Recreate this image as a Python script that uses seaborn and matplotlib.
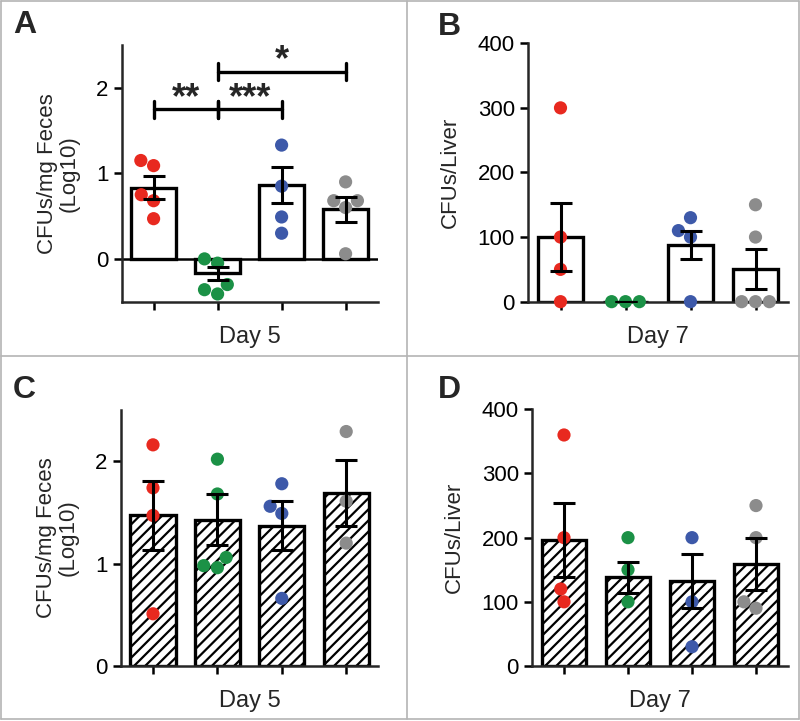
import pandas as pd
import matplotlib.pyplot as plt
import seaborn as sns
from matplotlib.lines import Line2D

# groups (same order in every panel) and dot colours
groups = ['g1', 'g2', 'g3', 'g4']
colors = ['#e8291f', '#1b9146', '#3d59a9', '#8c8c8c']

# Panel A - feces, day 5 (log10)
a_red = [1.15, 1.09, 0.75, 0.68, 0.47]
a_green = [0.0, -0.05, -0.30, -0.36, -0.41]
a_blue = [1.33, 0.85, 0.49, 0.30]
a_gray = [0.90, 0.68, 0.68, 0.60, 0.06]
a_mean = [0.83, -0.17, 0.86, 0.58]
a_sem = [0.135, 0.08, 0.21, 0.145]

# Panel B - liver, day 7
b_red = [300, 100, 50, 0]
b_green = [0, 0, 0]
b_blue = [130, 110, 100, 0]
b_gray = [150, 100, 0, 0, 0]
b_mean = [100, 0, 88, 50]
b_sem = [52, 0, 22, 31]

# Panel C - feces, day 5 (log10), hatched
c_red = [2.16, 1.74, 1.47, 0.51]
c_green = [2.02, 1.68, 1.06, 0.98, 0.96]
c_blue = [1.78, 1.56, 1.49, 0.66]
c_gray = [2.29, 1.61, 1.20]
c_mean = [1.47, 1.43, 1.37, 1.69]
c_sem = [0.34, 0.25, 0.24, 0.32]

# Panel D - liver, day 7, hatched
d_red = [360, 200, 120, 100]
d_green = [200, 150, 100]
d_blue = [200, 100, 30]
d_gray = [250, 200, 100, 90]
d_mean = [196, 138, 133, 159]
d_sem = [58, 24, 42, 40]

# significance brackets for panel A: (x1, x2, y, label)
a_sig = [(0, 1, 1.75, '**'), (1, 2, 1.75, '***'), (1, 3, 2.19, '*')]

sns.set_style('ticks')
plt.rcParams['font.family'] = ['Liberation Sans', 'DejaVu Sans']
plt.rcParams['hatch.linewidth'] = 1.6
plt.rcParams['axes.linewidth'] = 1.8


def long_df(series):
    rows = []
    for g, vals in zip(groups, series):
        for v in vals:
            rows.append({'group': g, 'value': v})
    return pd.DataFrame(rows)


def panel(ax, points, means, sems, ylim, yticks, ylabel, xlabel, hatch=None):
    sns.barplot(x=groups, y=means, order=groups, color='white', edgecolor='black',
                linewidth=2.4, width=0.7, errorbar=None, hatch=hatch, ax=ax, zorder=2)
    sns.swarmplot(data=long_df(points), x='group', y='value', hue='group',
                  order=groups, palette=colors, size=9.5, linewidth=0,
                  legend=False, ax=ax, zorder=3)
    for coll in ax.collections:
        coll.set_clip_on(False)
    ax.errorbar(range(len(groups)), means, yerr=sems, fmt='none', ecolor='black',
                elinewidth=2.2, capsize=8, capthick=2.2, zorder=4)
    ax.set_xlim(-0.5, 3.5)
    ax.set_ylim(*ylim)
    ax.set_yticks(yticks)
    ax.set_xticks(range(len(groups)))
    ax.set_xticklabels([])
    ax.tick_params(axis='both', width=1.8, length=6, labelsize=16, colors='black')
    ax.set_ylabel(ylabel, fontsize=16, labelpad=12, linespacing=1.0)
    ax.set_xlabel(xlabel, fontsize=17, labelpad=8)
    sns.despine(ax=ax)


fig = plt.figure(figsize=(8, 7.21), dpi=100)

axA = fig.add_axes([0.152, 0.5816, 0.320, 0.356])
panel(axA, [a_red, a_green, a_blue, a_gray], a_mean, a_sem, (-0.5, 2.5), [0, 1, 2],
      'CFUs/mg Feces\n(Log10)', 'Day 5')
axA.axhline(0, color='black', lw=1.8, zorder=2.5)
for x1, x2, y, lab in a_sig:
    axA.plot([x1, x2], [y, y], color='black', lw=2.4, zorder=5)
    axA.plot([x1, x1], [y - 0.1, y + 0.1], color='black', lw=2.4, zorder=5)
    axA.plot([x2, x2], [y - 0.1, y + 0.1], color='black', lw=2.4, zorder=5)
    axA.text((x1 + x2) / 2, y - 0.08, lab, ha='center', va='bottom',
             fontsize=26, fontweight='bold')

axB = fig.add_axes([0.660, 0.5816, 0.325, 0.3584])
panel(axB, [b_red, b_green, b_blue, b_gray], b_mean, b_sem, (0, 400),
      [0, 100, 200, 300, 400], 'CFUs/Liver', 'Day 7')

axC = fig.add_axes([0.151, 0.0763, 0.322, 0.355])
panel(axC, [c_red, c_green, c_blue, c_gray], c_mean, c_sem, (0, 2.5), [0, 1, 2],
      'CFUs/mg Feces\n(Log10)', 'Day 5', hatch='///')

axD = fig.add_axes([0.665, 0.0763, 0.320, 0.356])
panel(axD, [d_red, d_green, d_blue, d_gray], d_mean, d_sem, (0, 400),
      [0, 100, 200, 300, 400], 'CFUs/Liver', 'Day 7', hatch='///')

# panel letters
for x, y, lab in [(13, 10, 'A'), (438, 12, 'B'), (13, 375, 'C'), (438, 375, 'D')]:
    fig.text(x / 800, 1 - y / 721, lab, fontsize=23, fontweight='bold',
             ha='left', va='top')

# grey frame around the four panels
frame = '#b4b4b4'
W, H = 800, 721
for (x0, y0, x1, y1) in [(1, 1, 799, 1), (1, 719, 799, 719), (1, 1, 1, 719),
                         (799, 1, 799, 719), (407, 1, 407, 719), (1, 356, 799, 356)]:
    fig.add_artist(Line2D([x0 / W, x1 / W], [1 - y0 / H, 1 - y1 / H],
                          transform=fig.transFigure, color=frame, lw=1.2))

plt.savefig('out.png', dpi=100)
